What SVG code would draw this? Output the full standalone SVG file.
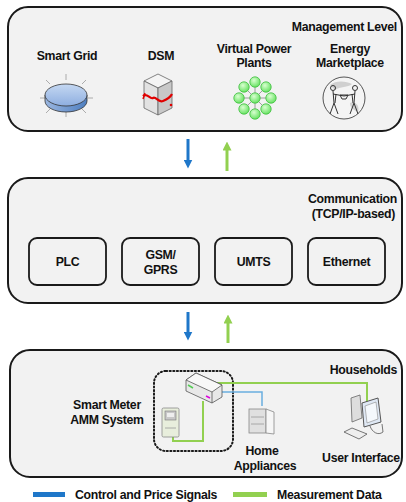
<svg xmlns="http://www.w3.org/2000/svg" width="406" height="502" viewBox="0 0 406 502">
<style>
text{font-family:"Liberation Sans",Arial,sans-serif;font-weight:bold;font-size:12.3px;fill:#111;letter-spacing:-0.3px}
.panel{fill:#f2f2f2;stroke:#1a1a1a;stroke-width:2}
.tech{fill:#f2f2f2;stroke:#1a1a1a;stroke-width:1.8}
.c{text-anchor:middle}
.r{text-anchor:end}
.blue{stroke:#1f77c9;stroke-width:3;fill:none}
.green{stroke:#92d050;stroke-width:3;fill:none}
.wb{stroke:#6aaee0;stroke-width:1.5;fill:none}
.wg{stroke:#92d050;stroke-width:2;fill:none}
</style>
<defs>
<marker id="ab" viewBox="0 0 10 10" refX="5" refY="5" markerWidth="3" markerHeight="3" orient="auto"><path d="M0,0 L10,5 L0,10 Z" fill="#1f77c9"/></marker>
<marker id="ag" viewBox="0 0 10 10" refX="5" refY="5" markerWidth="3" markerHeight="3" orient="auto"><path d="M0,0 L10,5 L0,10 Z" fill="#92d050"/></marker>
<linearGradient id="cylTop" x1="0" y1="0" x2="0" y2="1"><stop offset="0" stop-color="#c5d8f2"/><stop offset="1" stop-color="#8eaee0"/></linearGradient>
<linearGradient id="cylSide" x1="0" y1="0" x2="1" y2="0"><stop offset="0" stop-color="#9ab6e0"/><stop offset="1" stop-color="#4f7fc0"/></linearGradient>
<radialGradient id="vpg" cx="0.4" cy="0.35" r="0.7"><stop offset="0" stop-color="#d8ffd0"/><stop offset="1" stop-color="#5fe05a"/></radialGradient>
</defs>
<rect width="406" height="502" fill="#ffffff"/>

<g id="management">
<rect class="panel" x="8" y="7" width="394" height="124" rx="20"/>
<text class="r" x="397" y="31">Management Level</text>
<g id="smart-grid">
<text class="c" x="67" y="60">Smart Grid</text>
<g stroke="#999" stroke-width="0.8">
<line x1="66" y1="74" x2="66" y2="80"/><line x1="66" y1="112" x2="66" y2="117"/>
<line x1="40" y1="98" x2="45" y2="98"/><line x1="88" y1="98" x2="93" y2="98"/>
<line x1="46" y1="80" x2="50" y2="84"/><line x1="86" y1="80" x2="82" y2="84"/>
<line x1="46" y1="113" x2="50" y2="109"/><line x1="86" y1="113" x2="82" y2="109"/>
</g>
<path d="M45,95 L45,101 A21,11 0 0 0 87,101 L87,95 Z" fill="url(#cylSide)" stroke="#333" stroke-width="0.8"/>
<ellipse cx="66" cy="95" rx="21" ry="11" fill="url(#cylTop)" stroke="#333" stroke-width="0.8"/>
</g>
<g id="dsm">
<text class="c" x="161" y="60">DSM</text>
<path d="M144,81 L158,74 L172,81 L158,88 Z" fill="#f4f4f4" stroke="#666" stroke-width="0.8"/>
<path d="M144,81 L158,88 L158,115 L144,108 Z" fill="#e2e2e2" stroke="#666" stroke-width="0.8"/>
<path d="M158,88 L172,81 L172,108 L158,115 Z" fill="#c8c8c8" stroke="#666" stroke-width="0.8"/>
<path d="M143,96 C147,92 150,100 153,98 C156,96 158,103 163,101 C168,99 171,96 172,94" stroke="#e00000" stroke-width="2.2" fill="none"/>
<path d="M143,99 L145,93" stroke="#e00000" stroke-width="1.5"/>
<circle cx="171" cy="105" r="1.3" fill="#e00000"/>
</g>
<g id="vpp">
<text class="c" x="254" y="53">Virtual Power</text>
<text class="c" x="254" y="67">Plants</text>
<g stroke="#888" stroke-width="0.8">
<line x1="255" y1="82" x2="255" y2="114"/><line x1="239" y1="98" x2="271" y2="98"/>
<line x1="244" y1="87" x2="266" y2="109"/><line x1="266" y1="87" x2="244" y2="109"/>
</g>
<g fill="url(#vpg)" stroke="#3fbf3f" stroke-width="0.8">
<circle cx="255" cy="82" r="5.2"/><circle cx="255" cy="114" r="5.2"/>
<circle cx="239" cy="98" r="5.2"/><circle cx="271" cy="98" r="5.2"/>
<circle cx="244" cy="87" r="5.2"/><circle cx="266" cy="87" r="5.2"/>
<circle cx="244" cy="109" r="5.2"/><circle cx="266" cy="109" r="5.2"/>
<circle cx="255" cy="98" r="5.2"/>
</g>
</g>
<g id="marketplace">
<text class="c" x="350" y="53">Energy</text>
<text class="c" x="350" y="67">Marketplace</text>
<circle cx="344" cy="98" r="21" fill="#f4f4f4" stroke="#555" stroke-width="1"/>
<path d="M330,85 C336,80 346,81 352,84 C348,88 340,86 335,90 Z M350,103 C356,101 360,106 358,112 C354,110 350,108 350,103 Z" fill="#d0d0d0"/>
<g stroke="#333" stroke-width="1" fill="none">
<circle cx="333" cy="88" r="2.5"/><circle cx="355" cy="88" r="2.5"/>
<path d="M333,91 L334,103 L330,114 M334,103 L338,114 M333,94 L344,96 M336,94 L335,103"/>
<path d="M355,91 L354,103 L350,114 M354,103 L358,114 M355,94 L344,96 M352,94 L353,103"/>
<path d="M340,95 L348,95 L346,99 L342,99 Z"/>
</g>
</g>
</g>

<g id="communication">
<rect class="panel" x="8" y="178" width="394" height="125" rx="20"/>
<text class="r" x="397" y="203">Communication</text>
<text class="r" x="395" y="218">(TCP/IP-based)</text>
<g id="plc"><rect class="tech" x="29" y="238" width="77" height="47" rx="8"/><text class="c" x="67.5" y="266">PLC</text></g>
<g id="gsm"><rect class="tech" x="122" y="238" width="77" height="47" rx="8"/><text class="c" x="160.5" y="259">GSM/</text><text class="c" x="160.5" y="274">GPRS</text></g>
<g id="umts"><rect class="tech" x="215" y="238" width="77" height="47" rx="8"/><text class="c" x="253.5" y="266">UMTS</text></g>
<g id="ethernet"><rect class="tech" x="308" y="238" width="77" height="47" rx="8"/><text class="c" x="346.5" y="266">Ethernet</text></g>
</g>

<g id="households">
<rect class="panel" x="10" y="350" width="392" height="127" rx="20"/>
<text class="r" x="397" y="374">Households</text>
<text class="c" x="107" y="409">Smart Meter</text>
<text class="c" x="107" y="424">AMM System</text>
<rect x="154" y="371" width="79" height="80" rx="12" fill="none" stroke="#1a1a1a" stroke-width="2" stroke-dasharray="1.2,2.4" stroke-linecap="round"/>
<g id="wires">
<path class="wg" d="M213,383 L367,383 L367,403"/>
<path class="wb" d="M222,392 L262,392 L262,406"/>
<path class="wg" d="M173,436 L173,441 L203,441 L203,401"/>
</g>
<g id="router">
<path d="M186,380 L196,373 L222,385 L222,397 L212,403 L186,391 Z" fill="#e8e8e8" stroke="#555" stroke-width="0.8"/>
<path d="M186,380 L212,392 L222,385 L196,373 Z" fill="#f8f8f8" stroke="#555" stroke-width="0.8"/>
<path d="M212,392 L212,403" stroke="#555" stroke-width="0.8"/>
<path d="M188,385 L193,388" stroke="#5c5" stroke-width="1.5"/>
<path d="M206,396 L210,398" stroke="#d0d" stroke-width="1.5"/>
</g>
<g id="meter">
<rect x="162" y="408" width="17" height="29" rx="1.5" fill="#e8eedc" stroke="#888" stroke-width="0.8"/>
<rect x="165" y="411" width="11" height="9" fill="#c8c8c8" stroke="#777" stroke-width="0.6"/>
<rect x="167" y="413" width="7" height="4" fill="#eee"/>
<line x1="165" y1="428" x2="176" y2="428" stroke="#999" stroke-width="0.8"/>
</g>
<g id="home-appliances">
<rect x="249" y="409" width="17" height="24" fill="#e0e0e0" stroke="#888" stroke-width="0.8"/>
<path d="M266,409 L274,412 L274,434 L266,433 Z" fill="#f6f6f6" stroke="#888" stroke-width="0.8"/>
<line x1="251" y1="417" x2="264" y2="417" stroke="#999" stroke-width="0.8"/>
<line x1="251" y1="424" x2="264" y2="424" stroke="#999" stroke-width="0.8"/>
<text class="c" x="262" y="455">Home</text>
<text class="c" x="265" y="470">Appliances</text>
</g>
<g id="user-interface">
<path d="M351,398 L360,395 L362,418 L352,422 Z" fill="#ddd" stroke="#666" stroke-width="0.8"/>
<path d="M362,403 L378,398 L381,422 L364,427 Z" fill="#dfe8f4" stroke="#555" stroke-width="1"/>
<path d="M365,406 L376,402 L378,419 L367,423 Z" fill="#f4f8fc" stroke="#888" stroke-width="0.6"/>
<path d="M370,426 C372,432 378,436 383,432 L382,424" fill="none" stroke="#555" stroke-width="0.8"/>
<path d="M344,432 L352,428 L367,434 L359,439 Z" fill="#eee" stroke="#555" stroke-width="0.8"/>
<text class="c" x="361" y="462">User Interface</text>
</g>
</g>

<g id="connectors">
<line class="blue" x1="188" y1="139" x2="188" y2="164" marker-end="url(#ab)"/>
<line class="green" x1="227" y1="171" x2="227" y2="146" marker-end="url(#ag)"/>
<line class="blue" x1="188" y1="312" x2="188" y2="336" marker-end="url(#ab)"/>
<line class="green" x1="228" y1="343" x2="228" y2="319" marker-end="url(#ag)"/>
</g>

<g id="legend">
<rect x="33" y="492" width="32" height="5" fill="#1f77c9"/>
<text x="75" y="499">Control and Price Signals</text>
<rect x="233" y="492" width="34" height="5" fill="#92d050"/>
<text x="277" y="499">Measurement Data</text>
</g>
</svg>
